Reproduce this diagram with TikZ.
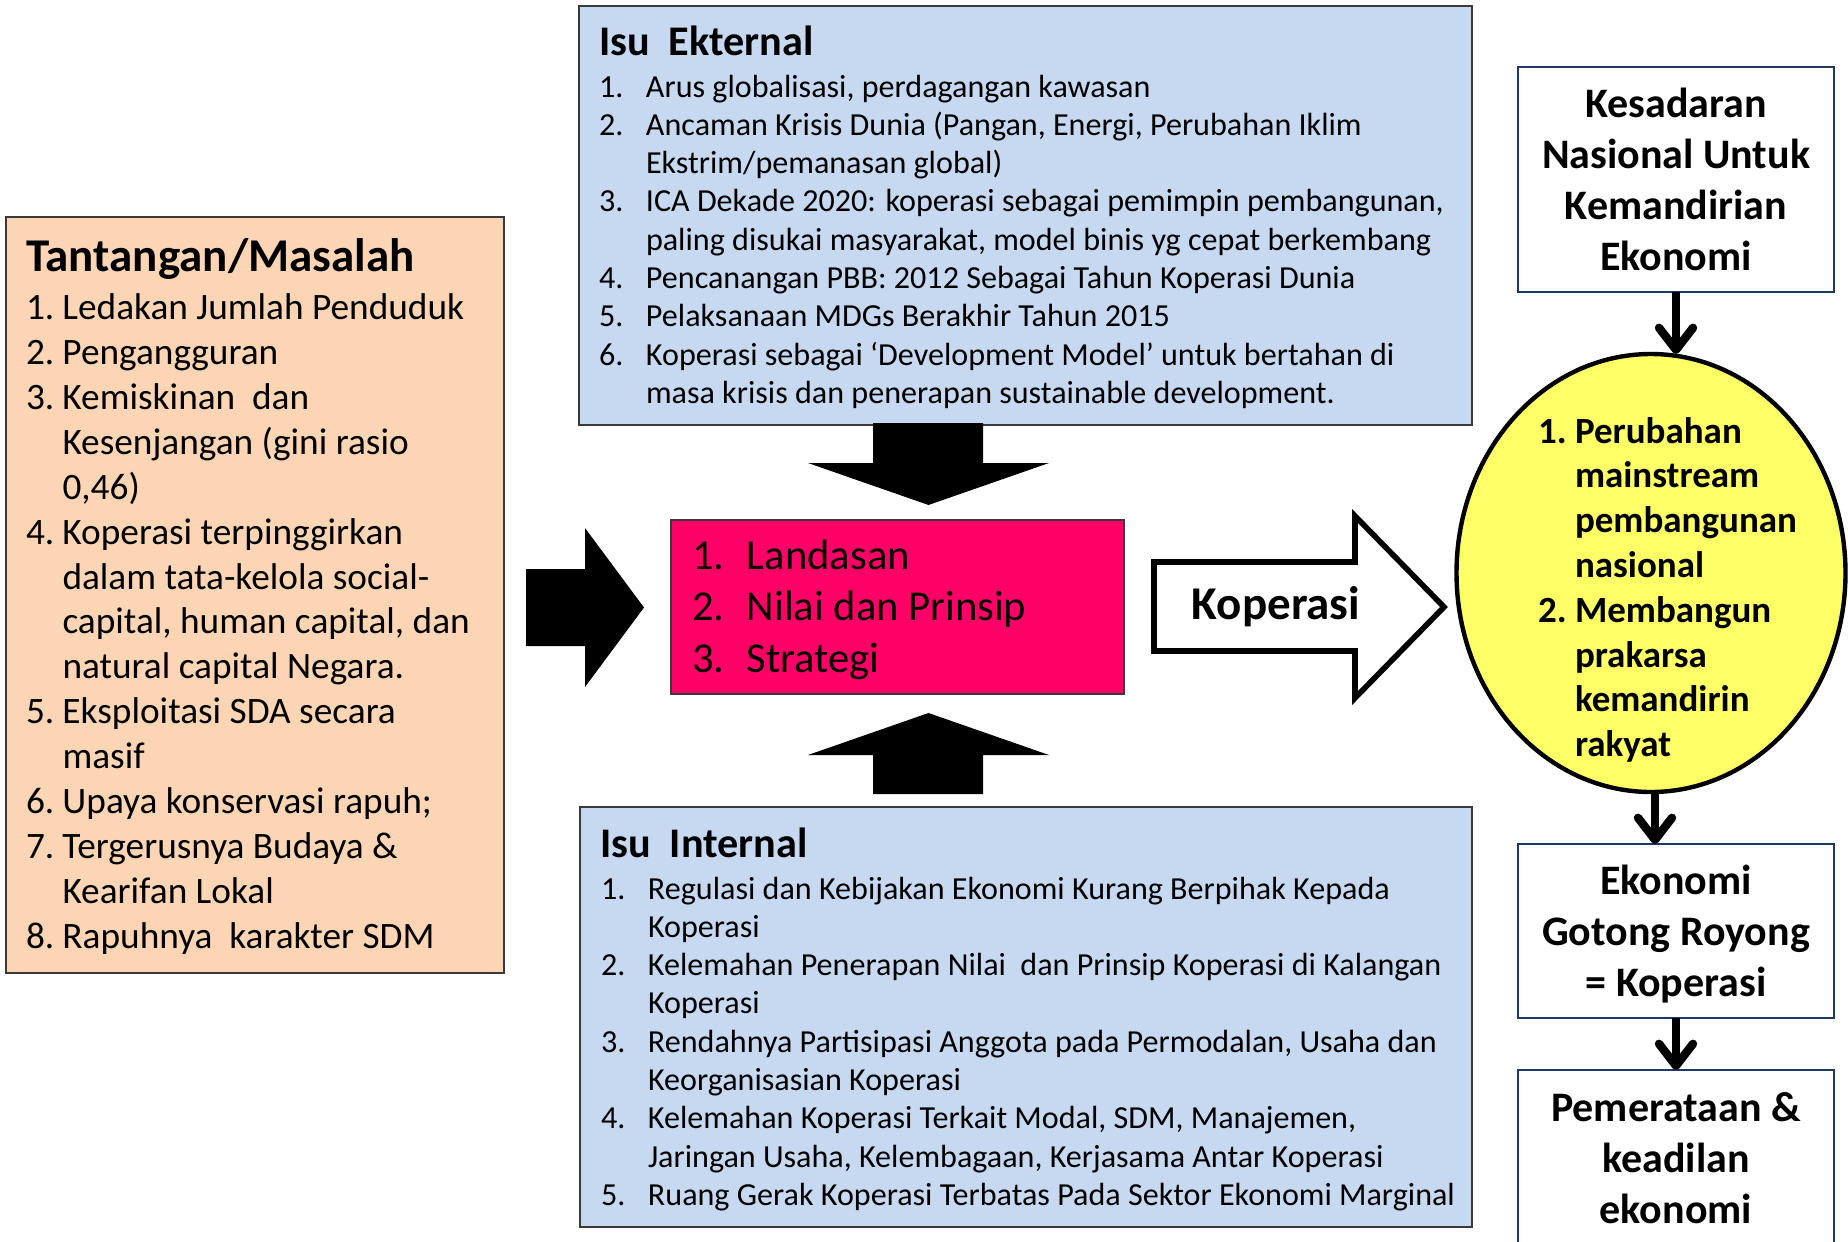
\documentclass[tikz,border=0pt]{standalone}
\usepackage{fontspec}
\setmainfont{Carlito}
\usetikzlibrary{arrows.meta,shapes.geometric}
\definecolor{peach}{HTML}{FCD5B5}
\definecolor{lblue}{HTML}{C6D9F1}
\definecolor{hotpink}{HTML}{FF0066}
\definecolor{lyellow}{HTML}{FFFF66}
\definecolor{navy}{HTML}{1F3864}
\definecolor{dgray}{HTML}{3A3A3A}
\tikzset{
  every node/.style={inner sep=0pt, outer sep=0pt},
  panel/.style={draw=dgray, line width=1pt, rectangle},
  rbox/.style={draw=navy, line width=1.2pt, fill=white, rectangle, minimum width=158pt, align=center, font=\fontsize{21}{25.5}\selectfont\bfseries},
  blockarrow/.style={fill=black},
  downarrow/.style={line width=4.2pt, -{Straight Barb[length=11pt,width=17pt,round]}},
  itemtxt/.style={anchor=base west},
  listfont/.style={font=\fontsize{16.05}{19.15}\selectfont},
  isutitle/.style={anchor=base west, font=\fontsize{21.1}{25}\selectfont\bfseries},
}
\begin{document}
\begin{tikzpicture}[x=0.5pt,y=-0.5pt]
\useasboundingbox (0,0) rectangle (1848,1242);
\fill[white] (0,0) rectangle (1848,1242);

% ---------- left panel ----------
\node[panel, fill=peach, minimum width=249pt, minimum height=378pt] (tm) at (255,595) {};
\node[anchor=base west, font=\fontsize{23.5}{28}\selectfont\bfseries] (tmT) at (26,271) {Tantangan/Masalah};
\node[itemtxt, font=\fontsize{18.65}{22.45}\selectfont] (tmL) at (26,319.6) {\begin{tabular}[t]{@{}p{18.25pt}@{}l@{}}
1. & Ledakan Jumlah Penduduk\\
2. & Pengangguran\\
3. & Kemiskinan\ \ dan\\
 & Kesenjangan (gini rasio\\
 & 0,46)\\
4. & Koperasi terpinggirkan\\
 & dalam tata-kelola social-\\
 & capital, human capital, dan\\
 & natural capital Negara.\\
5. & Eksploitasi SDA secara\\
 & masif\\
6. & Upaya konservasi rapuh;\\
7. & Tergerusnya Budaya \&\\
 & Kearifan Lokal\\
8. & Rapuhnya\ \ karakter SDM
\end{tabular}};

% ---------- Isu Ekternal ----------
\node[panel, fill=lblue, minimum width=446.5pt, minimum height=209.5pt] (ext) at (1025.5,215.5) {};
\node[isutitle] (extT) at (599,55.5) {Isu\ \ Ekternal};
\node[itemtxt, listfont] (extL) at (599,97) {\begin{tabular}[t]{@{}p{23.5pt}@{}l@{}}
1. & Arus globalisasi, perdagangan kawasan\\
2. & Ancaman Krisis Dunia (Pangan, Energi, Perubahan Iklim\\
 & Ekstrim/pemanasan global)\\
3. & ICA Dekade 2020: koperasi sebagai pemimpin pembangunan,\\
 & paling disukai masyarakat, model binis yg cepat berkembang\\
4. & Pencanangan PBB: 2012 Sebagai Tahun Koperasi Dunia\\
5. & Pelaksanaan MDGs Berakhir Tahun 2015\\
6. & Koperasi sebagai ‘Development Model’ untuk bertahan di\\
 & masa krisis dan penerapan sustainable development.
\end{tabular}};

% ---------- Isu Internal ----------
\node[panel, fill=lblue, minimum width=446pt, minimum height=210pt] (int) at (1026,1017) {};
\node[isutitle] (intT) at (600,857.5) {Isu\ \ Internal};
\node[itemtxt, listfont] (intL) at (601,899) {\begin{tabular}[t]{@{}p{23.5pt}@{}l@{}}
1. & Regulasi dan Kebijakan Ekonomi Kurang Berpihak Kepada\\
 & Koperasi\\
2. & Kelemahan Penerapan Nilai\ \ dan Prinsip Koperasi di Kalangan\\
 & Koperasi\\
3. & Rendahnya Partisipasi Anggota pada Permodalan, Usaha dan\\
 & Keorganisasian Koperasi\\
4. & Kelemahan Koperasi Terkait Modal, SDM, Manajemen,\\
 & Jaringan Usaha, Kelembagaan, Kerjasama Antar Koperasi\\
5. & Ruang Gerak Koperasi Terbatas Pada Sektor Ekonomi Marginal
\end{tabular}};

% ---------- centre pink box ----------
\node[panel, fill=hotpink, minimum width=226.5pt, minimum height=87pt] (pk) at (897.5,607) {};
\node[itemtxt, font=\fontsize{21.3}{25.65}\selectfont] (pkL) at (692,569.5) {\begin{tabular}[t]{@{}p{27.5pt}@{}l@{}}
1. & Landasan\\
2. & Nilai dan Prinsip\\
3. & Strategi
\end{tabular}};

% ---------- block arrows ----------
\fill[blockarrow] (526,569) -- (585,569) -- (585,528) -- (644,607.5) -- (585,687) -- (585,646) -- (526,646) -- cycle;
\fill[blockarrow] (873,423) -- (983,423) -- (983,463) -- (1049,463) -- (928.5,505) -- (808,463) -- (873,463) -- cycle;
\fill[blockarrow] (873,794) -- (983,794) -- (983,755) -- (1049,755) -- (928.5,713) -- (808,755) -- (873,755) -- cycle;
\draw[line width=2.8pt, fill=white, line join=miter] (1154,562) -- (1355,562) -- (1355,516) -- (1444,607) -- (1355,698) -- (1355,651) -- (1154,651) -- cycle;
\node[font=\fontsize{23.5}{28}\selectfont\bfseries] (kop) at (1276,607) {Koperasi};

% ---------- right column ----------
\node[rbox, minimum height=112.5pt] (b1) at (1676,179.5) {Kesadaran\\Nasional Untuk\\Kemandirian\\Ekonomi};
\node[ellipse, draw=black, line width=2.2pt, fill=lyellow, minimum width=194.5pt, minimum height=219pt] (ell) at (1651,573) {};
\node[itemtxt, font=\fontsize{18.5}{22.4}\selectfont\bfseries] (ellL) at (1538,443) {\begin{tabular}[t]{@{}p{18.5pt}@{}l@{}}
1. & Perubahan\\
 & mainstream\\
 & pembangunan\\
 & nasional\\
2. & Membangun\\
 & prakarsa\\
 & kemandirin\\
 & rakyat
\end{tabular}};
\node[rbox, minimum height=87pt] (b2) at (1676,931) {};
\node[align=center, font=\fontsize{21}{25.5}\selectfont\bfseries] (b2T) at (1676,934.5) {Ekonomi\\Gotong Royong\\= Koperasi};
\begin{scope}
\clip (0,0) rectangle (1848,1242);
\node[rbox, minimum height=95pt] (b3) at (1676,1165) {};
\end{scope}
\node[align=center, font=\fontsize{21}{25.5}\selectfont\bfseries] (b3T) at (1676,1158.5) {Pemerataan \&\\keadilan\\ekonomi};

\draw[downarrow] (b1.south) -- (b1.south |- ell.north);
\draw[downarrow] ([xshift=2pt]ell.south) -- ([xshift=2pt]ell.south |- b2.north);
\draw[downarrow] (b2.south) -- (b3.north);
\end{tikzpicture}
\end{document}
